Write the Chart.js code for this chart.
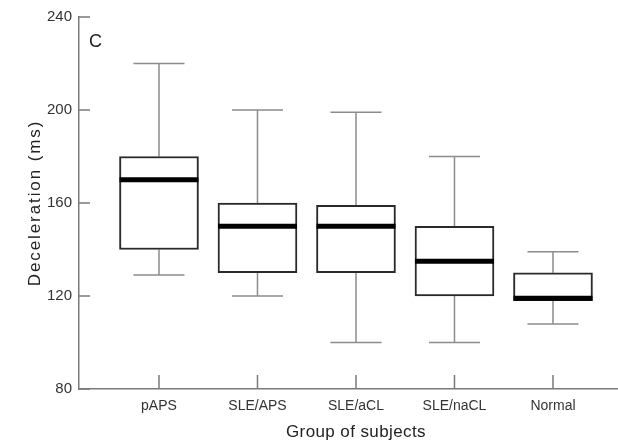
<!DOCTYPE html>
<html>
<head>
<meta charset="utf-8">
<script src="https://cdn.jsdelivr.net/npm/chart.js@4/dist/chart.umd.min.js"></script>
<style>
  html, body { margin: 0; padding: 0; background: #fff; }
  #chart { display: block; }
</style>
</head>
<body>
<canvas id="chart" width="618" height="441"></canvas>
<script>
// box plot values (ms)
const groups  = ['pAPS', 'SLE/APS', 'SLE/aCL', 'SLE/naCL', 'Normal'];
const mins    = [129, 120, 100, 100, 108];
const q1      = [140, 130, 130, 120, 118];
const medians = [170, 150, 150, 135, 119];
const q3      = [180, 160, 159, 150, 130];
const maxs    = [220, 200, 199, 180, 139];
const yTicks  = [80, 120, 160, 200, 240];

const FONT = '"Liberation Sans", Arial, sans-serif';
const AXIS = '#7a7a7a';

// whiskers, medians, inward ticks and the text bits
const boxPlot = {
    id: 'boxPlot',
    beforeDatasetsDraw(chart) {
        const ctx = chart.ctx, x = chart.scales.x, y = chart.scales.y;
        ctx.save();
        ctx.strokeStyle = '#8c8c8c';
        ctx.lineWidth = 1.5;
        groups.forEach((g, i) => {
            const cx = x.getPixelForValue(i + 1);
            ctx.beginPath();
            ctx.moveTo(cx, y.getPixelForValue(q3[i]));
            ctx.lineTo(cx, y.getPixelForValue(maxs[i]));
            ctx.moveTo(cx, y.getPixelForValue(q1[i]));
            ctx.lineTo(cx, y.getPixelForValue(mins[i]));
            ctx.moveTo(cx - 25.5, y.getPixelForValue(maxs[i]));
            ctx.lineTo(cx + 25.5, y.getPixelForValue(maxs[i]));
            ctx.moveTo(cx - 25.5, y.getPixelForValue(mins[i]));
            ctx.lineTo(cx + 25.5, y.getPixelForValue(mins[i]));
            ctx.stroke();
        });
        ctx.restore();
    },
    afterDatasetsDraw(chart) {
        const ctx = chart.ctx, x = chart.scales.x, y = chart.scales.y;
        ctx.save();
        ctx.strokeStyle = '#000';
        ctx.lineWidth = 5;
        groups.forEach((g, i) => {
            const cx = x.getPixelForValue(i + 1);
            const my = y.getPixelForValue(medians[i]);
            ctx.beginPath();
            ctx.moveTo(cx - 39.5, my);
            ctx.lineTo(cx + 39.5, my);
            ctx.stroke();
        });
        ctx.restore();
    },
    afterDraw(chart) {
        const ctx = chart.ctx, x = chart.scales.x, y = chart.scales.y;
        const area = chart.chartArea;
        ctx.save();
        ctx.strokeStyle = AXIS;
        ctx.lineWidth = 1.5;
        ctx.beginPath();
        yTicks.forEach(v => {
            const py = y.getPixelForValue(v);
            ctx.moveTo(area.left, py);
            ctx.lineTo(area.left + 11, py);
        });
        groups.forEach((g, i) => {
            const px = x.getPixelForValue(i + 1);
            ctx.moveTo(px, area.bottom);
            ctx.lineTo(px, area.bottom - 14);
        });
        ctx.stroke();

        ctx.fillStyle = '#222';
        ctx.font = '18px ' + FONT;
        ctx.textAlign = 'left';
        ctx.textBaseline = 'alphabetic';
        ctx.fillText('C', area.left + 10, area.top + 30);

        // x axis title, centred under the middle group
        ctx.font = '17px ' + FONT;
        ctx.letterSpacing = '0.4px';
        ctx.textAlign = 'center';
        ctx.fillText('Group of subjects', x.getPixelForValue(3), 437);

        // y axis title
        ctx.translate(40, (y.getPixelForValue(120) + y.getPixelForValue(200)) / 2);
        ctx.rotate(-Math.PI / 2);
        ctx.font = '17px ' + FONT;
        ctx.letterSpacing = '1.9px';
        ctx.fillText('Deceleration (ms)', 0, 0);
        ctx.restore();
    }
};

new Chart(document.getElementById('chart'), {
    type: 'bar',
    data: {
        datasets: [{
            data: groups.map((g, i) => ({ x: i + 1, y: [q1[i], q3[i]] })),
            backgroundColor: '#fff',
            borderColor: '#2a2a2a',
            borderWidth: 2,
            borderSkipped: false,
            barThickness: 79,
        }],
    },
    options: {
        responsive: false,
        animation: false,
        layout: { padding: { top: 17, right: 0, left: 0, bottom: 0 } },
        plugins: {
            legend: { display: false },
            tooltip: { enabled: false },
        },
        scales: {
            x: {
                type: 'linear',
                offset: false,
                min: 0.188,
                max: 5.66,
                afterBuildTicks: s => { s.ticks = groups.map((g, i) => ({ value: i + 1 })); },
                afterFit: s => { s.height = 52; },
                ticks: {
                    callback: v => groups[v - 1],
                    font: { family: FONT, size: 14 },
                    color: '#333',
                    padding: 9,
                    maxRotation: 0,
                },
                grid: { display: false, drawTicks: false, offset: false },
                border: { display: true, color: AXIS, width: 1.5 },
            },
            y: {
                min: 80,
                max: 240,
                afterBuildTicks: s => { s.ticks = yTicks.map(v => ({ value: v })); },
                afterFit: s => { s.width = 79; },
                ticks: {
                    font: { family: FONT, size: 15 },
                    color: '#333',
                    padding: 7,
                },
                grid: { display: false, drawTicks: false },
                border: { display: true, color: AXIS, width: 1.5 },
            },
        },
    },
    plugins: [boxPlot],
});
</script>
</body>
</html>
